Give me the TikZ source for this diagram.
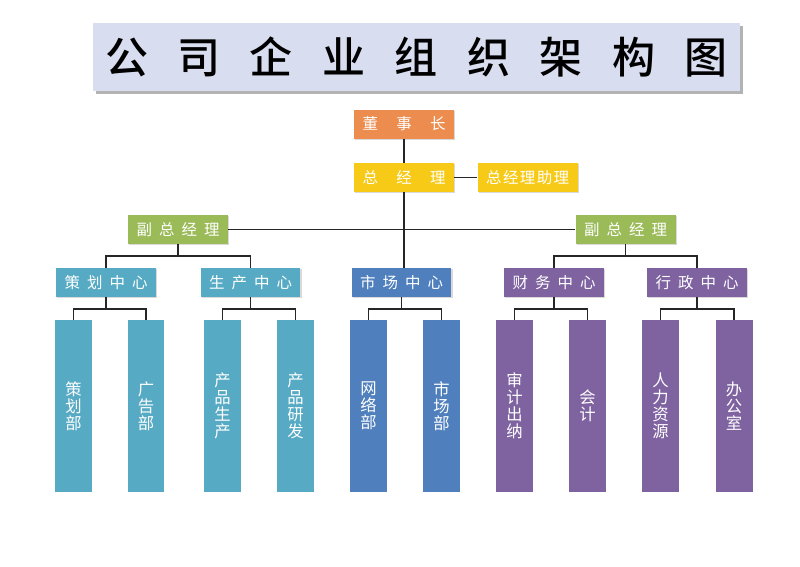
\documentclass[tikz,border=0pt]{standalone}
\usepackage{fontspec}
\newfontfamily\cjk{Noto Sans CJK SC}
\newfontfamily\cjktitle{Noto Sans CJK SC Medium}
\usepackage{tikz}
\usetikzlibrary{positioning, shadows, calc}

\definecolor{chairorange}{HTML}{EC8D4F}
\definecolor{gmyellow}{HTML}{F7CA18}
\definecolor{vpgreen}{HTML}{9BBB59}
\definecolor{deptteal}{HTML}{57AAC4}
\definecolor{deptblue}{HTML}{4F7FBC}
\definecolor{deptpurple}{HTML}{7F63A1}
\definecolor{titlebg}{HTML}{D8DDEF}

\newcommand\spreadtxt[1]{\makebox[1.66cm]{#1}}

\begin{document}
\begin{tikzpicture}[x=0.02cm, y=-0.02cm,
	box/.style={rectangle, minimum width=2cm, minimum height=0.58cm, inner sep=0pt, text=white, font=\cjk\fontsize{8.8}{10}\selectfont, drop shadow={shadow xshift=0.7pt, shadow yshift=-0.7pt, opacity=0.3}},
	dept/.style={rectangle, minimum width=0.74cm, minimum height=3.44cm, inner sep=0pt, text=white, align=center, font=\cjk\fontsize{9.3}{9.7}\selectfont},
	link/.style={line width=0.75pt, black!85}
]
\useasboundingbox (0,0) rectangle (800,566);

% Title
\node[fill=titlebg, minimum width=12.94cm, minimum height=1.36cm, inner sep=0pt, drop shadow={shadow xshift=1.5pt, shadow yshift=-1.5pt, fill=black!50, opacity=0.6}] (title) at (416.5,57)
	{\cjktitle\fontsize{24.5}{30}\selectfont\makebox[12.46cm]{公\hfill 司\hfill 企\hfill 业\hfill 组\hfill 织\hfill 架\hfill 构\hfill 图}};

% Top management
\node[box, fill=chairorange] (dsz) at (404,124) {\spreadtxt{董\hfill 事\hfill 长}};
\node[box, fill=gmyellow] (zjl) at (404,177.5) {\spreadtxt{总\hfill 经\hfill 理}};
\node[box, fill=gmyellow, right=0.46cm of zjl] (zl) {\spreadtxt{总\hfill 经\hfill 理\hfill 助\hfill 理}};
\node[box, fill=vpgreen] (fz1) at (178,229.5) {\spreadtxt{副\hfill 总\hfill 经\hfill 理}};
\node[box, fill=vpgreen] (fz2) at (625.5,229.5) {\spreadtxt{副\hfill 总\hfill 经\hfill 理}};

% Centres
\node[box, fill=deptteal] (chzx) at (106,282.5) {\spreadtxt{策\hfill 划\hfill 中\hfill 心}};
\node[box, fill=deptteal] (sczx) at (250.5,282.5) {\spreadtxt{生\hfill 产\hfill 中\hfill 心}};
\node[box, fill=deptblue] (shzx) at (401.5,282.5) {\spreadtxt{市\hfill 场\hfill 中\hfill 心}};
\node[box, fill=deptpurple] (cwzx) at (554,282.5) {\spreadtxt{财\hfill 务\hfill 中\hfill 心}};
\node[box, fill=deptpurple] (xzzx) at (697,282.5) {\spreadtxt{行\hfill 政\hfill 中\hfill 心}};

% Departments
\node[dept, fill=deptteal] (chb) at (73.5,406) {策\\划\\部};
\node[dept, fill=deptteal] (ggb) at (146,406) {广\\告\\部};
\node[dept, fill=deptteal] (cpsc) at (222.5,406) {产\\品\\生\\产};
\node[dept, fill=deptteal] (cpyf) at (295.5,406) {产\\品\\研\\发};
\node[dept, fill=deptblue] (wlb) at (368.5,406) {网\\络\\部};
\node[dept, fill=deptblue] (scb) at (441.5,406) {市\\场\\部};
\node[dept, fill=deptpurple] (sjcn) at (514.5,406) {审\\计\\出\\纳};
\node[dept, fill=deptpurple] (kj) at (587.5,406) {会\\计};
\node[dept, fill=deptpurple] (rlzy) at (660.5,406) {人\\力\\资\\源};
\node[dept, fill=deptpurple] (bgs) at (734,406) {办\\公\\室};

% Connectors
\draw[link] (dsz) -- (zjl);
\draw[link] (zjl) -- (zl);
\draw[link] (zjl.south) -- (zjl.south |- shzx.north);
\draw[link] (fz1) -- (fz2);
\foreach \p/\c in {fz1/chzx, fz1/sczx, fz2/cwzx, fz2/xzzx,
	chzx/chb, chzx/ggb, sczx/cpsc, sczx/cpyf, shzx/wlb, shzx/scb,
	cwzx/sjcn, cwzx/kj, xzzx/rlzy, xzzx/bgs}
	\draw[link] (\p.south) -- ++(0,11.5) -| (\c.north);

\end{tikzpicture}
\end{document}
